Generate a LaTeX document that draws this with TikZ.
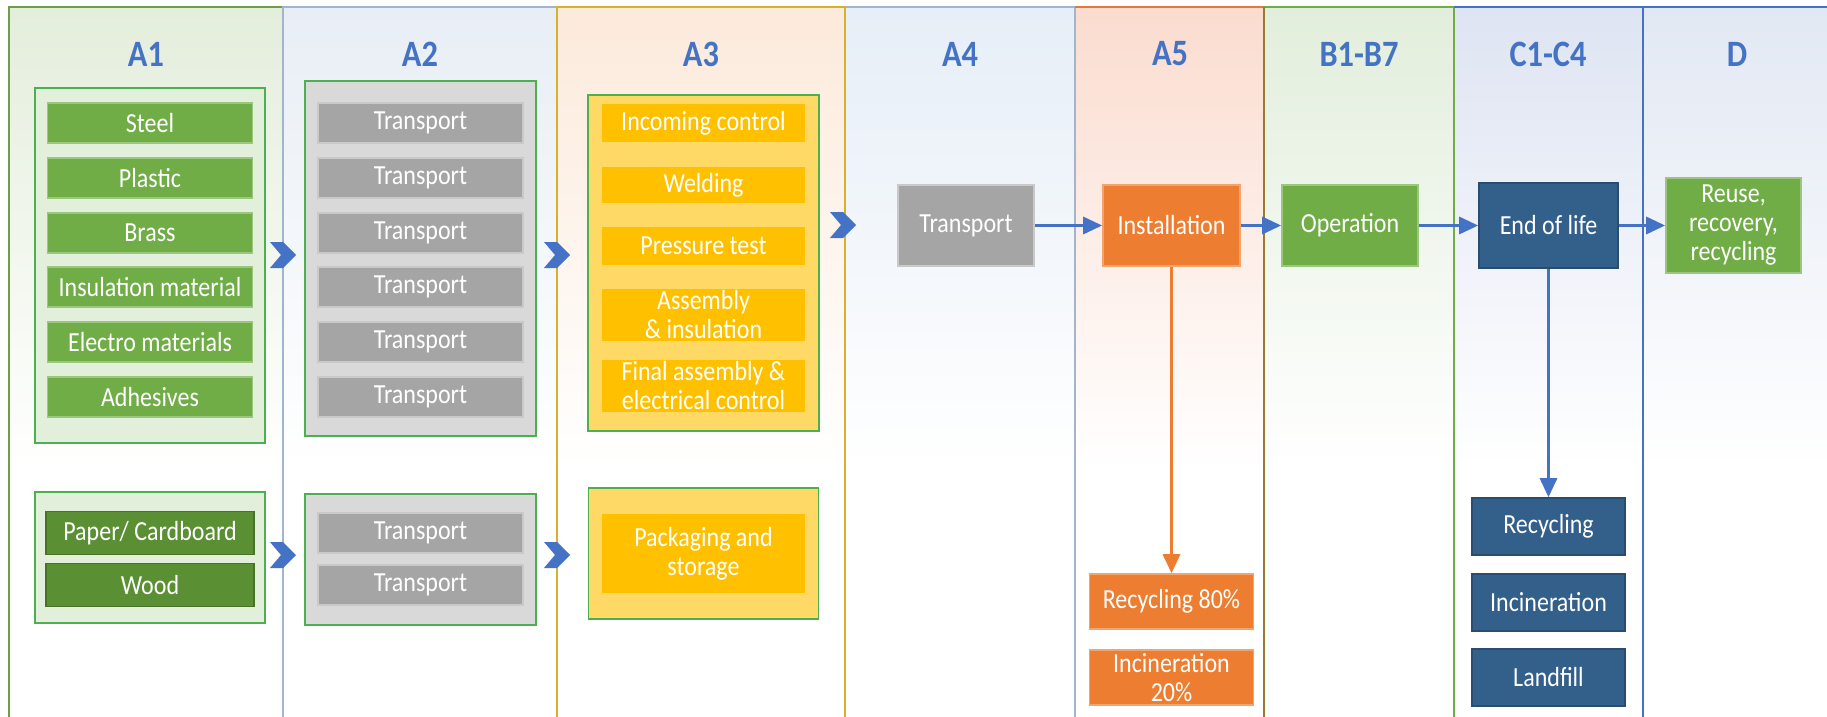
\documentclass[tikz,border=0pt]{standalone}
\usepackage{fontspec}
\setmainfont{Carlito}[FakeStretch=0.87]
\usetikzlibrary{arrows.meta}

\definecolor{hdrblue}{HTML}{4472C4}
\definecolor{matgreen}{HTML}{70AD47}
\definecolor{packgreen}{HTML}{5B8F33}
\definecolor{trgray}{HTML}{A5A5A5}
\definecolor{prodgold}{HTML}{FFC000}
\definecolor{prodlight}{HTML}{FFD966}
\definecolor{instorange}{HTML}{ED7D31}
\definecolor{eolblue}{HTML}{335F8B}
\definecolor{grpgreen}{HTML}{4CAF50}
\definecolor{grplight}{HTML}{E2EFDA}
\definecolor{grpgray}{HTML}{D9D9D9}
% column lines and tints
\definecolor{lineA1}{HTML}{6E9E45}
\definecolor{lineA2}{HTML}{A3B4CE}
\definecolor{lineA3}{HTML}{D6B030}
\definecolor{lineA5}{HTML}{E0793A}
\definecolor{lineA5B}{HTML}{9A7A30}
\definecolor{tintA1}{HTML}{E4EEDC}
\definecolor{tintA2}{HTML}{E8EEF5}
\definecolor{tintA3}{HTML}{FCEADB}
\definecolor{tintA4}{HTML}{E6EEF7}
\definecolor{tintA5}{HTML}{FBDCCF}
\definecolor{tintB}{HTML}{E2EEDC}
\definecolor{tintC}{HTML}{DEE4F2}
\definecolor{tintD}{HTML}{E2E8F3}

\newcommand{\boxfont}{\fontsize{13.8}{14.5}\selectfont}
\newcommand{\hdrfont}{\fontsize{18.6}{20}\selectfont\bfseries}

\tikzset{
  hdr/.style={text=hdrblue, font=\hdrfont, inner sep=0pt},
  itembox/.style={text=white, inner sep=0pt, font=\boxfont, line width=0.8pt},
  matbox/.style={itembox, fill=matgreen, draw=matgreen!70!white,
    minimum width=102.5pt, minimum height=20pt},
  packbox/.style={itembox, fill=packgreen, draw=packgreen!80!black,
    minimum width=104pt, minimum height=21.5pt},
  trbox/.style={itembox, fill=trgray, draw=trgray!60!white,
    minimum width=102.5pt, minimum height=20pt},
  prodbox/.style={itembox, fill=prodgold, draw=prodgold!60!white,
    minimum width=102.5pt, minimum height=20pt},
  stagebox/.style={itembox, minimum width=68pt, minimum height=40.5pt},
  endbox/.style={itembox, fill=eolblue, draw=eolblue!80!black,
    minimum width=76.5pt, minimum height=28.5pt},
  grpbox/.style={draw=grpgreen, line width=0.8pt, minimum width=115pt},
  flow/.style={draw=hdrblue, line width=1.6pt,
    -{Triangle[length=9.5pt,width=8.5pt]}},
  chev/.pic={\fill[hdrblue] (-13,-13) -- (0,-13) -- (13,0) -- (0,13)
    -- (-13,13) -- (-2,0) -- cycle;}
}

\begin{document}
\begin{tikzpicture}[x=0.5pt, y=-0.5pt, every text node part/.style={align=center}]
  \useasboundingbox (0,0) rectangle (1827,717);
  \fill[white] (0,0) rectangle (1827,717);

  % Column backgrounds
  \shade[top color=tintA1, bottom color=white] (9,7) rectangle (283,470);
  \shade[top color=tintA2, bottom color=white] (283,7) rectangle (557,470);
  \shade[top color=tintA3, bottom color=white] (557,7) rectangle (845,470);
  \shade[top color=tintA4, bottom color=white] (845,7) rectangle (1075,470);
  \shade[top color=tintA5, bottom color=white] (1075,7) rectangle (1264,470);
  \shade[top color=tintB, bottom color=white] (1264,7) rectangle (1454,470);
  \shade[top color=tintC, bottom color=white] (1454,7) rectangle (1643,470);
  \shade[top color=tintD, bottom color=white] (1643,7) rectangle (1827,470);

  % Column lines
  \draw[lineA1, line width=1pt] (9,717) -- (9,7) -- (283,7);
  \draw[lineA2, line width=1pt] (283,717) -- (283,7) -- (557,7);
  \draw[lineA2, line width=1pt] (845,7) -- (1075,7) -- (1075,717);
  \draw[lineA3, line width=1pt] (557,717) -- (557,7) -- (845,7) -- (845,717);
  \draw[lineA5, line width=1pt] (1075,7) -- (1264,7);
  \draw[matgreen, line width=1pt] (1264,7) -- (1454,7) -- (1454,717);
  \draw[lineA5B, line width=1pt] (1264,717) -- (1264,7);
  \draw[hdrblue, line width=1.4pt] (1454,7) -- (1827,7) (1643,7) -- (1643,717);

  % Headers
  \node[hdr] (hA1) at (146,54) {A1};
  \node[hdr] (hA2) at (420,54) {A2};
  \node[hdr] (hA3) at (701,54) {A3};
  \node[hdr] (hA4) at (960,54) {A4};
  \node[hdr] (hA5) at (1170,54) {A5};
  \node[hdr] (hB) at (1359,54) {B1-B7};
  \node[hdr] (hC) at (1548,54) {C1-C4};
  \node[hdr] (hD) at (1737,54) {D};

  % A1 raw materials
  \node[grpbox, fill=grplight, minimum height=177.5pt] (a1grp) at (150,265.5) {};
  \node[matbox] (steel) at (150,123) {Steel};
  \node[matbox] (plastic) at (150,178) {Plastic};
  \node[matbox] (brass) at (150,233) {Brass};
  \node[matbox] (insul) at (150,287) {Insulation material};
  \node[matbox] (electro) at (150,342) {Electro materials};
  \node[matbox] (adhes) at (150,397) {Adhesives};

  \node[grpbox, fill=grplight, minimum height=65.5pt] (a1pack) at (150,557.5) {};
  \node[packbox] (paper) at (150,533) {Paper/ Cardboard};
  \node[packbox] (wood) at (150,585) {Wood};

  % A2 transport
  \node[grpbox, fill=grpgray, minimum width=115.5pt, minimum height=177.5pt] (a2grp) at (420.5,258.5) {};
  \node[trbox] (tr1) at (420.5,123) {Transport};
  \node[trbox] (tr2) at (420.5,178) {Transport};
  \node[trbox] (tr3) at (420.5,233) {Transport};
  \node[trbox] (tr4) at (420.5,287) {Transport};
  \node[trbox] (tr5) at (420.5,342) {Transport};
  \node[trbox] (tr6) at (420.5,397) {Transport};

  \node[grpbox, fill=grpgray, minimum width=115.5pt, minimum height=65.5pt] (a2pack) at (420.5,559.5) {};
  \node[trbox] (tr7) at (420.5,533) {Transport};
  \node[trbox] (tr8) at (420.5,585) {Transport};

  % A3 manufacturing
  \node[grpbox, fill=prodlight, minimum width=115.5pt, minimum height=168pt] (a3grp) at (703.5,263) {};
  \node[prodbox] (incoming) at (703.5,123) {Incoming control};
  \node[prodbox, minimum height=19pt] (welding) at (703.5,185) {Welding};
  \node[prodbox, minimum height=19.5pt] (pressure) at (703.5,246) {Pressure test};
  \node[prodbox, minimum height=27pt] (assembly) at (703.5,315) {Assembly\\ \& insulation};
  \node[prodbox, minimum height=27pt] (final) at (703.5,386) {Final assembly \&\\electrical control};

  \node[grpbox, fill=prodlight, minimum height=65.5pt] (a3pack) at (703.5,553.5) {};
  \node[prodbox, minimum height=40.5pt] (packaging) at (703.5,553.5) {Packaging and\\storage};

  % Chevrons
  \pic at (283,255) {chev};
  \pic at (557,255) {chev};
  \pic at (843,225) {chev};
  \pic at (283,555) {chev};
  \pic at (557,555) {chev};

  % Life cycle stages
  \node[stagebox, fill=trgray, draw=trgray!60!white] (trA4) at (966,225.5) {Transport};
  \node[stagebox, fill=instorange, draw=instorange!70!white, minimum width=68.5pt] (inst) at (1171.5,225.5) {Installation};
  \node[stagebox, fill=matgreen, draw=matgreen!70!white] (oper) at (1350,225.5) {Operation};
  \node[stagebox, fill=eolblue, draw=eolblue!80!black, minimum width=69.5pt, minimum height=42.5pt] (eol) at (1548.5,225.5) {End of life};
  \node[stagebox, fill=matgreen, draw=matgreen!70!white, minimum width=67.5pt, minimum height=47.5pt] (reuse) at (1733.5,225.5) {Reuse,\\recovery,\\recycling};

  % A5 waste
  \node[itembox, fill=instorange, draw=instorange!70!white, minimum width=82pt, minimum height=27.5pt] (rec5) at (1171.5,601.5) {Recycling 80\%};
  \node[itembox, fill=instorange, draw=instorange!70!white, minimum width=82pt, minimum height=27.5pt] (inc5) at (1171.5,677.5) {Incineration\\20\%};

  % C end of life
  \node[endbox] (recC) at (1548.5,526.5) {Recycling};
  \node[endbox] (incC) at (1548.5,602.5) {Incineration};
  \node[endbox] (landC) at (1548.5,677.5) {Landfill};

  % Arrows
  \draw[flow] (trA4) -- (inst);
  \draw[flow] (inst) -- (oper);
  \draw[flow] (oper) -- (eol);
  \draw[flow] (eol) -- (reuse);
  \draw[flow, draw=instorange] (inst.south) -- (rec5.north);
  \draw[flow] (eol.south) -- (recC.north);
\end{tikzpicture}
\end{document}
